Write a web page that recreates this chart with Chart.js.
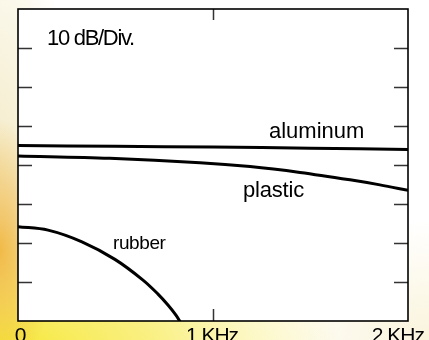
<!DOCTYPE html>
<html>
<head>
<meta charset="utf-8">
<script src="https://cdn.jsdelivr.net/npm/chart.js@4.4.0/dist/chart.umd.min.js"></script>
<style>
  html, body { margin: 0; padding: 0; }
  body {
    width: 429px; height: 340px; overflow: hidden;
    background:
      radial-gradient(ellipse 55px 130px at 0px 250px, rgba(240,180,60,0.9), rgba(240,180,60,0) 100%),
      radial-gradient(ellipse 340px 120px at 0px 345px, #f6e838 0%, rgba(248,236,100,0.8) 45%, rgba(250,246,210,0) 100%),
      radial-gradient(ellipse 70px 280px at 0px 170px, #f4ebc8, rgba(245,238,210,0) 100%),
      radial-gradient(ellipse 180px 120px at 429px 340px, #faf4dc, rgba(250,245,224,0) 100%),
      #ffffff;
  }
  #wrap { position: relative; width: 429px; height: 340px; }
</style>
</head>
<body>
<div id="wrap"><canvas id="chart" width="429" height="340"></canvas></div>
<script>
// values (frequency in Hz, level in dB, 10 dB per division)
const aluminumFreq = [0, 500, 1000, 1500, 2000];
const aluminumDb = [-35.0, -35.2, -35.4, -35.7, -36.0];

const plasticFreq = [0, 470, 933, 1190, 1446, 1703, 1856, 2000];
const plasticDb = [-37.7, -38.3, -39.4, -40.4, -41.9, -43.8, -45.1, -46.5];

const rubberFreq = [0, 154, 328, 497, 641, 718, 769, 810, 841];
const rubberDb = [-55.8, -56.7, -59.7, -64.2, -69.5, -73.1, -75.9, -78.5, -81.0];

const yTickValues = [-10, -20, -30, -40, -50, -60, -70];
const xTickValues = [0, 1000, 2000];
const xTickLabels = ['0', '1 KHz', '2 KHz'];

const curveNames = ['aluminum', 'plastic', 'rubber'];
const scaleNote = '10 dB/Div.';

// where the text notes sit, in data units
const notes = [
  { text: scaleNote, x: 149, y: -9.2, size: 22, spacing: '-1.3px' },
  { text: curveNames[0], x: 1287, y: -33.1, size: 22, spacing: '0px' },
  { text: curveNames[1], x: 1154, y: -48.2, size: 22, spacing: '-0.2px' },
  { text: curveNames[2], x: 487, y: -61.5, size: 19, spacing: '-0.4px' }
];

function toPoints(xs, ys) {
  return xs.map((x, i) => ({ x: x, y: ys[i] }));
}

const curveStyle = {
  borderColor: '#000',
  borderWidth: 3,
  pointRadius: 0,
  fill: false,
  tension: 0.35
};

// frame, inward ticks, tick labels and notes
const framePlugin = {
  id: 'frame',
  beforeDatasetsDraw(chart) {
    const { ctx, chartArea: a } = chart;
    ctx.save();
    ctx.fillStyle = '#fff';
    ctx.fillRect(a.left, a.top, a.right - a.left, a.bottom - a.top);
    ctx.restore();
  },
  afterDraw(chart) {
    const { ctx, chartArea: a, scales } = chart;
    const xs = scales.x, ys = scales.y;
    ctx.save();

    ctx.strokeStyle = '#333';
    ctx.lineWidth = 1.5;
    ctx.beginPath();
    yTickValues.forEach(v => {
      const py = Math.round(ys.getPixelForValue(v)) + 0.5;
      ctx.moveTo(a.left, py); ctx.lineTo(a.left + 14, py);
      ctx.moveTo(a.right, py); ctx.lineTo(a.right - 14, py);
    });
    const mx = Math.round(xs.getPixelForValue(xTickValues[1])) + 0.5;
    ctx.moveTo(mx, a.top); ctx.lineTo(mx, a.top + 11);
    ctx.moveTo(mx, a.bottom); ctx.lineTo(mx, a.bottom - 12);
    ctx.stroke();

    ctx.strokeStyle = '#000';
    ctx.lineWidth = 1.6;
    ctx.strokeRect(a.left, a.top, a.right - a.left, a.bottom - a.top);

    ctx.fillStyle = '#000';
    ctx.textBaseline = 'alphabetic';
    ctx.font = '21px "Liberation Sans", Arial, sans-serif';
    ctx.letterSpacing = '-1px';
    const shift = [2, -1, 16];
    const align = ['center', 'center', 'right'];
    xTickValues.forEach((v, i) => {
      ctx.textAlign = align[i];
      ctx.fillText(xTickLabels[i], xs.getPixelForValue(v) + shift[i], a.bottom + 21);
    });

    ctx.textAlign = 'left';
    notes.forEach(n => {
      ctx.font = n.size + 'px "Liberation Sans", Arial, sans-serif';
      ctx.letterSpacing = n.spacing;
      ctx.fillText(n.text, xs.getPixelForValue(n.x), ys.getPixelForValue(n.y));
    });
    ctx.restore();
  }
};

new Chart(document.getElementById('chart'), {
  type: 'line',
  data: {
    datasets: [
      Object.assign({ label: curveNames[0], data: toPoints(aluminumFreq, aluminumDb) }, curveStyle),
      Object.assign({ label: curveNames[1], data: toPoints(plasticFreq, plasticDb) }, curveStyle),
      Object.assign({ label: curveNames[2], data: toPoints(rubberFreq, rubberDb) }, curveStyle)
    ]
  },
  options: {
    responsive: false,
    animation: false,
    layout: { padding: { left: 18, top: 9, right: 21, bottom: 19 } },
    plugins: { legend: { display: false }, tooltip: { enabled: false } },
    scales: {
      x: { type: 'linear', min: 0, max: 2000, display: false },
      y: { type: 'linear', min: -80, max: 0, display: false }
    }
  },
  plugins: [framePlugin]
});
</script>
</body>
</html>
